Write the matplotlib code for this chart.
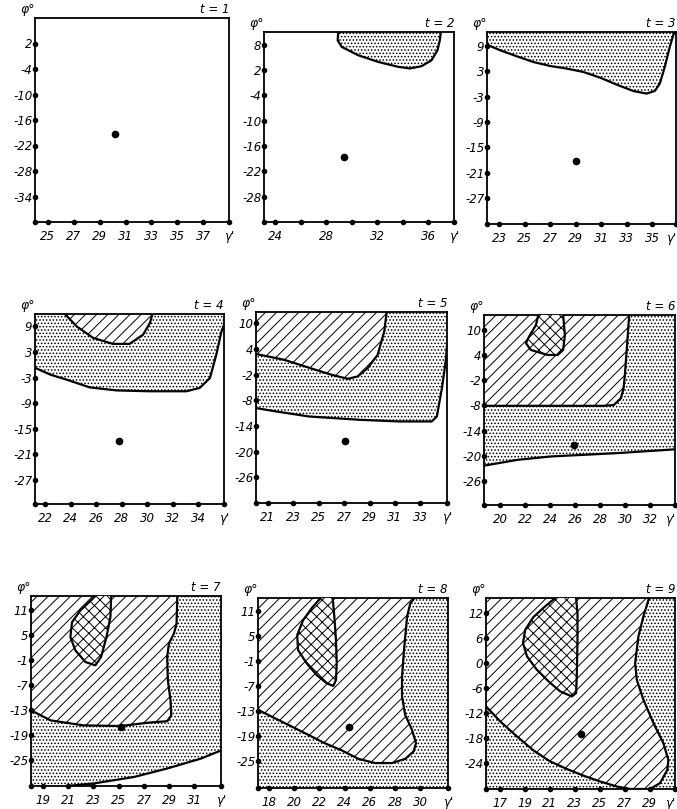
import matplotlib
matplotlib.use('Agg')
import matplotlib.pyplot as plt
from matplotlib.patches import Polygon

plt.rcParams['font.family'] = 'DejaVu Sans'
plt.rcParams['hatch.linewidth'] = 0.7

W, H = 677, 809

# ── Frames of the nine panels (pixels: left, top, right, bottom) ────────────
boxes = [(35, 18, 229, 222), (264, 32, 454, 222), (487, 32, 676, 224),
         (35, 314, 224, 504), (256, 312, 447, 503), (484, 315, 675, 505),
         (31, 596, 221, 786), (258, 598, 448, 788), (486, 598, 675, 789)]

# ── Axis ranges ──────────────────────────────────────────────────────────────
xlims = [(24, 39), (23.14, 38), (22.04, 36.85),
         (21.2, 36), (20.06, 35.1), (18.7, 34),
         (18.05, 33.1), (17.12, 32.2), (15.92, 31)]
ylims = [(-40, 8), (-34, 11), (-33.1, 12.3),
         (-32.6, 11.9), (-32, 12.6), (-31.8, 13.6),
         (-31.2, 14.25), (-31.5, 14.2), (-30.2, 15.6)]

# ── Ticks ────────────────────────────────────────────────────────────────────
x_labels = [[25, 27, 29, 31, 33, 35, 37], [24, 28, 32, 36], [23, 25, 27, 29, 31, 33, 35],
            [22, 24, 26, 28, 30, 32, 34], [21, 23, 25, 27, 29, 31, 33], [20, 22, 24, 26, 28, 30, 32],
            [19, 21, 23, 25, 27, 29, 31], [18, 20, 22, 24, 26, 28, 30], [17, 19, 21, 23, 25, 27, 29]]
x_dots = [[25, 27, 29, 31, 33, 35, 37], [24, 26, 28, 30, 32, 34, 36], [23, 25, 27, 29, 31, 33, 35],
          [22, 24, 26, 28, 30, 32, 34], [21, 23, 25, 27, 29, 31, 33], [20, 22, 24, 26, 28, 30, 32],
          [19, 21, 23, 25, 27, 29, 31], [18, 20, 22, 24, 26, 28, 30], [17, 19, 21, 23, 25, 27, 29]]
y_labels = [[2, -4, -10, -16, -22, -28, -34], [8, 2, -4, -10, -16, -22, -28], [9, 3, -3, -9, -15, -21, -27],
            [9, 3, -3, -9, -15, -21, -27], [10, 4, -2, -8, -14, -20, -26], [10, 4, -2, -8, -14, -20, -26],
            [11, 5, -1, -7, -13, -19, -25], [11, 5, -1, -7, -13, -19, -25], [12, 6, 0, -6, -12, -18, -24]]

# ── Optimum point for each t ─────────────────────────────────────────────────
opt_x = [30.2, 29.4, 28.99, 27.76, 27.06, 25.92, 25.14, 24.35, 23.49]
opt_y = [-19.3, -18.6, -18.3, -17.8, -17.6, -17.4, -17.1, -16.9, -16.9]

# ── Region boundaries (gamma, phi) ───────────────────────────────────────────
p2_dotted = [(28.95, 11), (28.9, 9.04), (29.21, 7.5), (30.5, 5.5), (32.07, 3.92), (33.63, 2.75),
             (34.55, 2.36), (35.46, 2.9), (36.24, 4.3), (36.71, 6.7), (36.89, 9.04), (36.97, 11)]

p3_dotted = [(22.04, 9.3), (23.08, 7.97), (24.38, 6.55), (25.68, 5.2), (26.99, 4.26), (28.29, 3.65),
             (29.59, 2.85), (30.89, 1.52), (32.2, -0.14), (33.5, -1.65), (34.54, -2.26), (35.19, -1.65),
             (35.58, 0.1), (35.97, 4.03), (36.36, 8.75), (36.67, 11.9), (36.85, 12.3)]

p4_dotted = [(21.2, -0.7), (22.4, -2.3), (23.7, -3.5), (25.5, -5.3), (27.6, -6.0), (30.2, -6.2),
             (33.05, -6.2), (34.1, -5.4), (34.9, -3.1), (35.4, 2.4), (35.8, 7.8), (36, 9.4)]
p4_hatched = [(23.54, 11.9), (24.46, 9.0), (25.75, 6.3), (27.3, 4.9), (28.6, 4.9), (29.66, 7.05),
              (30.2, 9.8), (30.4, 11.9)]

p5_dotted = [(20.06, -9.83), (21.6, -10.6), (24.24, -11.8), (28.16, -12.56), (31.3, -12.96),
             (33.9, -12.96), (34.3, -11.8), (34.7, -5.2), (35.0, 1.06), (35.1, 4.96)]
p5_hatched = [(30.35, 12.6), (30.16, 8.07), (29.64, 2.6), (28.85, -0.5), (28.07, -2.45), (27.28, -3.0),
              (26.0, -2.05), (23.9, -0.1), (22.25, 1.46), (20.06, 2.8)]

p6_dotted = [(18.7, -22.4), (21.4, -21.0), (24.06, -20.2), (29.4, -19.4), (34.0, -18.5)]
p6_hatched = [(30.33, 13.6), (30.2, 8.04), (29.98, -0.9), (29.88, -3.9), (29.66, -6.3), (29.1, -7.9),
              (28.3, -8.1), (18.7, -8.1)]
p6_cross = [(23.05, 13.6), (22.86, 11.2), (22.3, 8.4), (22.06, 6.85), (22.46, 5.25), (23.8, 4.05),
            (24.6, 4.05), (25.04, 5.25), (25.18, 8.8), (25.04, 13.6)]

p7_dotted = [(20.9, -31.2), (23.0, -30.6), (26.2, -29.05), (28.85, -27.0), (31.5, -24.65), (33.1, -22.7)]
p7_hatched = [(29.64, 14.25), (29.58, 7.64), (29.37, 5.25), (28.97, 2.86), (28.84, -0.34), (28.89, -5.9),
              (29.1, -10.7), (29.16, -14.3), (28.84, -15.7), (27.5, -16.0), (25.14, -16.85), (22.2, -16.7),
              (19.6, -15.5), (18.05, -13.1)]
p7_cross = [(23.15, 14.25), (22.76, 13.1), (21.96, 10.8), (21.3, 8.0), (21.17, 4.44), (21.56, 1.26),
            (22.36, -1.54), (23.15, -2.33), (23.6, -0.34), (24.03, 4.44), (24.34, 9.2), (24.4, 14.25)]

p8_hatched = [(17.12, -12.7), (18.45, -14.7), (19.78, -16.7), (21.1, -18.7), (22.4, -20.7), (23.77, -22.45),
              (25.1, -24.5), (26.42, -25.5), (27.75, -25.5), (28.8, -24.5), (29.47, -22.7), (29.66, -20.7),
              (29.34, -17.5), (28.8, -13.9), (28.55, -9.5), (28.55, -4.7), (28.73, 2.46), (28.95, 9.65),
              (29.2, 12.86), (29.55, 14.2)]
p8_cross = [(22.09, 14.2), (21.42, 11.9), (20.7, 8.86), (20.23, 5.27), (20.3, 1.67), (20.98, -1.5),
            (21.77, -4.3), (22.57, -6.3), (23.1, -6.95), (23.31, -5.5), (23.37, -1.5), (23.31, 4.07),
            (23.18, 9.65), (23.05, 14.2)]

p9_hatched = [(15.92, -10.4), (17.06, -14.0), (18.39, -17.6), (19.71, -20.95), (21.04, -23.6), (22.37, -25.4),
              (23.7, -27.0), (25.03, -28.4), (26.36, -29.6), (27.42, -30.2), (29.01, -30.2), (29.8, -28.8),
              (30.39, -25.6), (30.47, -23.2), (30.07, -19.2), (29.28, -14.4), (28.48, -8.8), (27.95, -4.0),
              (27.82, 0.0), (28.08, 6.4), (28.48, 11.2), (28.93, 15.6)]
p9_cross = [(21.44, 15.6), (20.64, 13.6), (19.71, 11.05), (19.05, 8.0), (18.87, 4.8), (19.19, 1.6),
            (19.98, -1.6), (20.91, -4.4), (21.84, -6.8), (22.77, -8.0), (23.11, -7.2), (23.17, -2.4),
            (23.22, 5.6), (23.22, 12.0), (23.11, 15.6)]

# (boundary, corners that close it, fill) per panel, drawn in order
regions = [
    [],
    [(p2_dotted, '', 'dot')],
    [(p3_dotted, 'tl', 'dot')],
    [(p4_dotted, 'tr tl', 'dot'), (p4_hatched, '', 'hatch')],
    [(p5_dotted, 'tr tl', 'dot'), (p5_hatched, 'tl', 'hatch')],
    [(p6_dotted, 'tr tl', 'dot'), (p6_hatched, 'tl', 'hatch'), (p6_cross, '', 'cross')],
    [(p7_dotted, 'tr tl bl', 'dot'), (p7_hatched, 'tl', 'hatch'), (p7_cross, '', 'cross')],
    [([], 'bl br tr tl', 'dot'), (p8_hatched, 'tl', 'hatch'), (p8_cross, '', 'cross')],
    [([], 'bl br tr tl', 'dot'), (p9_hatched, 'tl', 'hatch'), (p9_cross, '', 'cross')],
]
hatches = {'dot': '.....', 'hatch': '///', 'cross': 'xxx'}
layer = {'dot': 1, 'hatch': 2, 'cross': 3}

fig = plt.figure(figsize=(W / 100, H / 100), dpi=100)

for i, (l, t, r, b) in enumerate(boxes):
    ax = fig.add_axes([l / W, 1 - b / H, (r - l) / W, (b - t) / H])
    x0, x1 = xlims[i]
    y0, y1 = ylims[i]
    ax.set_xlim(x0, x1)
    ax.set_ylim(y0, y1)
    corner = {'tl': (x0, y1), 'tr': (x1, y1), 'bl': (x0, y0), 'br': (x1, y0)}

    for curve, close, kind in regions[i]:
        verts = list(curve) + [corner[c] for c in close.split()]
        ax.add_patch(Polygon(verts, closed=True, facecolor='white', edgecolor='black',
                             lw=0, hatch=hatches[kind], zorder=layer[kind]))
        if curve:
            cx, cy = zip(*curve)
            ax.plot(cx, cy, color='black', lw=1.6, solid_joinstyle='round',
                    solid_capstyle='round', zorder=4)

    ax.plot(opt_x[i], opt_y[i], 'o', color='black', ms=4.5, zorder=6)

    # axis marks are drawn as dots on the frame
    ax.plot(x_dots[i] + [x0, x1], [y0] * (len(x_dots[i]) + 2), 'o', color='black',
            ms=3, clip_on=False, zorder=7)
    ax.plot([x0] * len(y_labels[i]), y_labels[i], 'o', color='black',
            ms=3, clip_on=False, zorder=7)

    ax.set_xticks(x_labels[i] + [x1], [str(v) for v in x_labels[i]] + ["γ'"],
                  fontstyle='italic', fontsize=8.5)
    ax.set_yticks(y_labels[i], [str(v) for v in y_labels[i]],
                  fontstyle='italic', fontsize=8.5)
    ax.tick_params(length=0)
    ax.tick_params(axis='x', pad=6)
    ax.tick_params(axis='y', pad=2)
    if i % 3 == 2:
        # right column sits on the page edge
        ax.get_xticklabels()[-1].set_horizontalalignment('right')
    for s in ax.spines.values():
        s.set_linewidth(1.3)

    ax.text(0, 1.01, 'φ°', transform=ax.transAxes, ha='right', va='bottom',
            fontsize=9, fontstyle='italic')
    ax.text(1, 1.01, f't = {i + 1}', transform=ax.transAxes, ha='right', va='bottom',
            fontsize=8.5, fontstyle='italic')

fig.savefig('out.png', dpi=100)
